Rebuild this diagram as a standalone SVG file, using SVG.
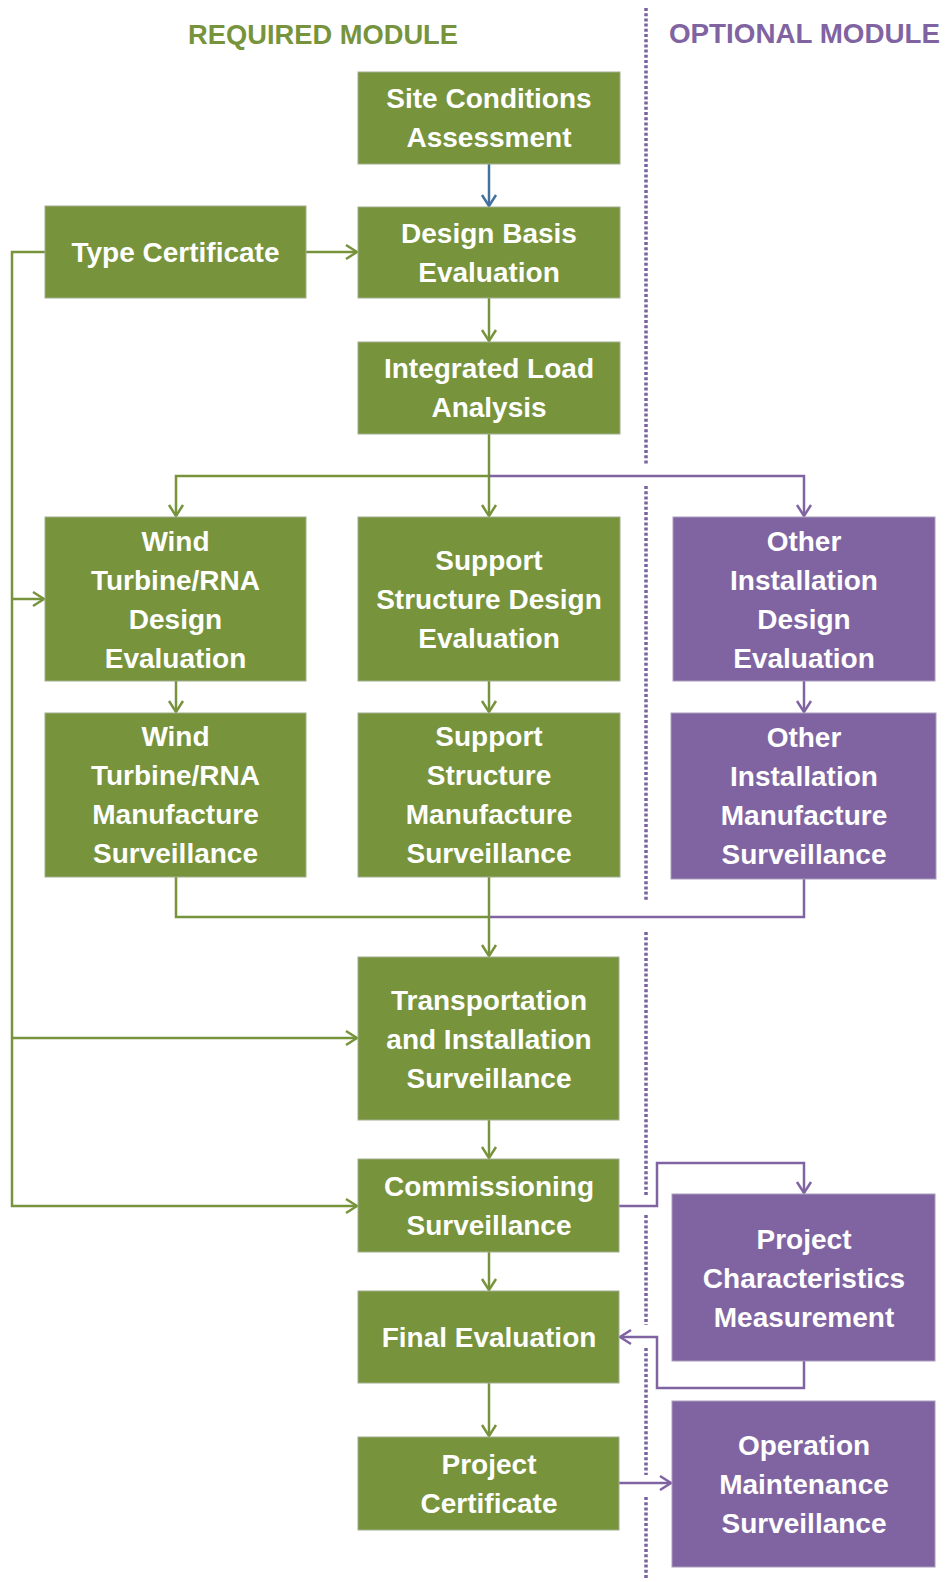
<svg xmlns="http://www.w3.org/2000/svg" width="945" height="1582" viewBox="0 0 945 1582">
  <style>
    .req { fill: #77933C; stroke: #a2ae8e; stroke-width: 1; }
    .opt { fill: #8064A2; stroke: #a99bbb; stroke-width: 1; }
    .lbl { font-family: "Liberation Sans", Arial, sans-serif; font-weight: bold; font-size: 28px; fill: #ffffff; text-anchor: middle; }
    .head { font-family: "Liberation Sans", Arial, sans-serif; font-weight: bold; font-size: 27px; }
    .g { fill: none; stroke: #77933C; stroke-width: 2.5; }
    .p { fill: none; stroke: #8064A2; stroke-width: 2.5; }
    .b { fill: none; stroke: #41719C; stroke-width: 2.5; }
    .sep { fill: none; stroke: #7a62a0; stroke-width: 3.5; stroke-dasharray: 3 2.2; }
  </style>
  <defs>
    <marker id="ag" markerUnits="userSpaceOnUse" markerWidth="20" markerHeight="20" viewBox="-14 -10 16 20" refX="0" refY="0" orient="auto">
      <path d="M-11,-7 L0,0 L-11,7" fill="none" stroke="#77933C" stroke-width="2.5"/>
    </marker>
    <marker id="ap" markerUnits="userSpaceOnUse" markerWidth="20" markerHeight="20" viewBox="-14 -10 16 20" refX="0" refY="0" orient="auto">
      <path d="M-11,-7 L0,0 L-11,7" fill="none" stroke="#8064A2" stroke-width="2.5"/>
    </marker>
    <marker id="ab" markerUnits="userSpaceOnUse" markerWidth="20" markerHeight="20" viewBox="-14 -10 16 20" refX="0" refY="0" orient="auto">
      <path d="M-11,-7 L0,0 L-11,7" fill="none" stroke="#41719C" stroke-width="2.5"/>
    </marker>
  </defs>

  <rect width="945" height="1582" fill="#ffffff"/>

  <!-- module headings -->
  <text class="head" x="188" y="44" fill="#77933C" textLength="270" lengthAdjust="spacingAndGlyphs">REQUIRED MODULE</text>
  <text class="head" x="669" y="43" fill="#8064A2" textLength="271" lengthAdjust="spacingAndGlyphs">OPTIONAL MODULE</text>

  <!-- dotted module separator, broken where connectors cross -->
  <g id="separator">
    <line class="sep" x1="646" y1="8" x2="646" y2="465"/>
    <line class="sep" x1="646" y1="486" x2="646" y2="900"/>
    <line class="sep" x1="646" y1="932" x2="646" y2="1195"/>
    <line class="sep" x1="646" y1="1215" x2="646" y2="1325"/>
    <line class="sep" x1="646" y1="1348" x2="646" y2="1475"/>
    <line class="sep" x1="646" y1="1497" x2="646" y2="1580"/>
  </g>

  <!-- connectors -->
  <g id="connectors">
    <path class="b" d="M489,164 V206" marker-end="url(#ab)"/>
    <path class="g" d="M306,252 H357" marker-end="url(#ag)"/>
    <path class="g" d="M489,298 V341" marker-end="url(#ag)"/>
    <path class="g" d="M489,434 V516" marker-end="url(#ag)"/>
    <path class="g" d="M489,476 H176 V516" marker-end="url(#ag)"/>
    <path class="p" d="M489,476 H804 V516" marker-end="url(#ap)"/>
    <path class="g" d="M176,681 V712" marker-end="url(#ag)"/>
    <path class="g" d="M489,681 V712" marker-end="url(#ag)"/>
    <path class="p" d="M804,681 V712" marker-end="url(#ap)"/>
    <path class="g" d="M176,877 V917 H489"/>
    <path class="p" d="M804,879 V917 H489"/>
    <path class="g" d="M489,877 V956" marker-end="url(#ag)"/>
    <path class="g" d="M489,1120 V1158" marker-end="url(#ag)"/>
    <path class="g" d="M489,1252 V1290" marker-end="url(#ag)"/>
    <path class="g" d="M489,1383 V1436" marker-end="url(#ag)"/>
    <path class="g" d="M45,252 H12 V1206 H357" marker-end="url(#ag)"/>
    <path class="g" d="M12,599 H44" marker-end="url(#ag)"/>
    <path class="g" d="M12,1038 H357" marker-end="url(#ag)"/>
    <path class="p" d="M619,1206 H657 V1163 H804 V1193" marker-end="url(#ap)"/>
    <path class="p" d="M804,1361 V1388 H657 V1337 H620" marker-end="url(#ap)"/>
    <path class="p" d="M619,1483 H671" marker-end="url(#ap)"/>
  </g>

  <!-- required module nodes -->
  <g id="site-conditions">
    <rect class="req" x="358" y="72" width="262" height="92"/>
    <text class="lbl" x="489" y="108">Site Conditions</text>
    <text class="lbl" x="489" y="147">Assessment</text>
  </g>
  <g id="type-certificate">
    <rect class="req" x="45" y="206" width="261" height="92"/>
    <text class="lbl" x="175.5" y="262">Type Certificate</text>
  </g>
  <g id="design-basis">
    <rect class="req" x="358" y="207" width="262" height="91"/>
    <text class="lbl" x="489" y="243">Design Basis</text>
    <text class="lbl" x="489" y="282">Evaluation</text>
  </g>
  <g id="integrated-load">
    <rect class="req" x="358" y="342" width="262" height="92"/>
    <text class="lbl" x="489" y="378">Integrated Load</text>
    <text class="lbl" x="489" y="417">Analysis</text>
  </g>
  <g id="wtg-design">
    <rect class="req" x="45" y="517" width="261" height="164"/>
    <text class="lbl" x="175.5" y="551">Wind</text>
    <text class="lbl" x="175.5" y="590">Turbine/RNA</text>
    <text class="lbl" x="175.5" y="629">Design</text>
    <text class="lbl" x="175.5" y="668">Evaluation</text>
  </g>
  <g id="support-design">
    <rect class="req" x="358" y="517" width="262" height="164"/>
    <text class="lbl" x="489" y="570">Support</text>
    <text class="lbl" x="489" y="609">Structure Design</text>
    <text class="lbl" x="489" y="648">Evaluation</text>
  </g>
  <g id="wtg-manufacture">
    <rect class="req" x="45" y="713" width="261" height="164"/>
    <text class="lbl" x="175.5" y="746">Wind</text>
    <text class="lbl" x="175.5" y="785">Turbine/RNA</text>
    <text class="lbl" x="175.5" y="824">Manufacture</text>
    <text class="lbl" x="175.5" y="863">Surveillance</text>
  </g>
  <g id="support-manufacture">
    <rect class="req" x="358" y="713" width="262" height="164"/>
    <text class="lbl" x="489" y="746">Support</text>
    <text class="lbl" x="489" y="785">Structure</text>
    <text class="lbl" x="489" y="824">Manufacture</text>
    <text class="lbl" x="489" y="863">Surveillance</text>
  </g>
  <g id="transport-installation">
    <rect class="req" x="358" y="957" width="261" height="163"/>
    <text class="lbl" x="489" y="1010">Transportation</text>
    <text class="lbl" x="489" y="1049">and Installation</text>
    <text class="lbl" x="489" y="1088">Surveillance</text>
  </g>
  <g id="commissioning">
    <rect class="req" x="358" y="1159" width="261" height="93"/>
    <text class="lbl" x="489" y="1196">Commissioning</text>
    <text class="lbl" x="489" y="1235">Surveillance</text>
  </g>
  <g id="final-evaluation">
    <rect class="req" x="358" y="1291" width="261" height="92"/>
    <text class="lbl" x="489" y="1347">Final Evaluation</text>
  </g>
  <g id="project-certificate">
    <rect class="req" x="358" y="1437" width="261" height="93"/>
    <text class="lbl" x="489" y="1474">Project</text>
    <text class="lbl" x="489" y="1513">Certificate</text>
  </g>

  <!-- optional module nodes -->
  <g id="other-design">
    <rect class="opt" x="673" y="517" width="262" height="164"/>
    <text class="lbl" x="804" y="551">Other</text>
    <text class="lbl" x="804" y="590">Installation</text>
    <text class="lbl" x="804" y="629">Design</text>
    <text class="lbl" x="804" y="668">Evaluation</text>
  </g>
  <g id="other-manufacture">
    <rect class="opt" x="671" y="713" width="265" height="166"/>
    <text class="lbl" x="804" y="747">Other</text>
    <text class="lbl" x="804" y="786">Installation</text>
    <text class="lbl" x="804" y="825">Manufacture</text>
    <text class="lbl" x="804" y="864">Surveillance</text>
  </g>
  <g id="characteristics-measurement">
    <rect class="opt" x="672" y="1194" width="263" height="167"/>
    <text class="lbl" x="804" y="1249">Project</text>
    <text class="lbl" x="804" y="1288">Characteristics</text>
    <text class="lbl" x="804" y="1327">Measurement</text>
  </g>
  <g id="operation-maintenance">
    <rect class="opt" x="672" y="1401" width="263" height="166"/>
    <text class="lbl" x="804" y="1455">Operation</text>
    <text class="lbl" x="804" y="1494">Maintenance</text>
    <text class="lbl" x="804" y="1533">Surveillance</text>
  </g>
</svg>
